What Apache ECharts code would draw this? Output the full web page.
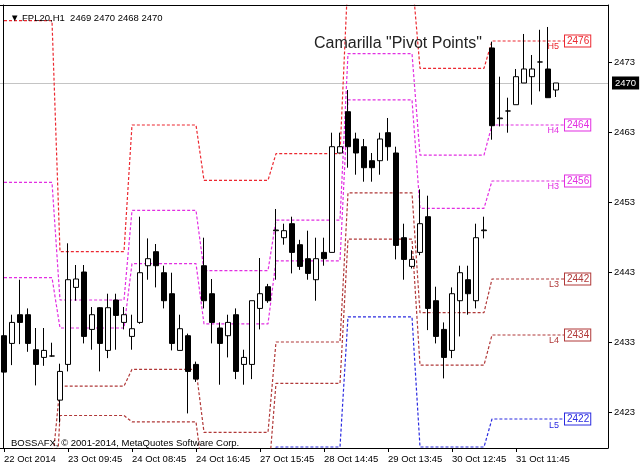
<!DOCTYPE html>
<html><head><meta charset="utf-8">
<script src="https://cdn.jsdelivr.net/npm/echarts@6/dist/echarts.min.js"></script>
<style>html,body{margin:0;padding:0;background:#fff}#c{width:640px;height:469px}</style>
</head><body><div id="c"></div>
<script>
// ---- data ----
const symbolName = 'FPL20,H1';
const chartTitle = 'Camarilla "Pivot Points"';
const copyright = 'BOSSAFX, \u00a9 2001-2014, MetaQuotes Software Corp.';
const xLabels = ['22 Oct 2014','23 Oct 09:45','24 Oct 08:45','24 Oct 16:45','27 Oct 15:45','28 Oct 14:45','29 Oct 13:45','30 Oct 12:45','31 Oct 11:45'];
const labelBars = [0,8,16,24,32,40,48,56,64];
const yTicks = [2423,2433,2443,2453,2463,2473];
const opens  = [2433.9,2432.8,2436.9,2436.9,2431.9,2430.8,2431.0,2424.7,2429.8,2440.8,
                2443.0,2434.8,2437.9,2431.8,2439.0,2435.8,2433.8,2435.8,2443.9,2445.9,
                2442.9,2439.9,2431.8,2433.9,2429.8,2443.9,2439.9,2435.0,2433.9,2436.9,
                2429.8,2429.8,2437.8,2440.9,2448.9,2447.9,2449.9,2446.9,2444.9,2441.9,
                2445.8,2445.8,2460.0,2465.9,2462.0,2460.9,2458.9,2458.9,2462.9,2460.0,
                2447.9,2443.8,2445.8,2450.9,2438.9,2434.8,2431.8,2438.9,2441.9,2438.9,
                2448.9,2475.0,2464.9,2466.0,2466.9,2470.0,2470.9,2473.0,2472.0,2469.0];
const closes = [2428.7,2435.8,2435.8,2432.8,2429.8,2431.8,2431.0,2428.8,2441.9,2442.0,
                2433.8,2436.9,2432.8,2437.9,2436.8,2436.9,2434.9,2442.9,2444.9,2443.9,
                2438.9,2432.8,2434.9,2428.8,2427.7,2438.9,2435.8,2432.8,2435.8,2428.8,
                2430.8,2438.9,2439.9,2438.9,2449.0,2448.9,2445.8,2443.8,2442.8,2444.9,
                2444.9,2460.9,2460.9,2460.9,2460.0,2457.9,2457.9,2462.0,2460.9,2446.8,
                2444.8,2444.8,2449.9,2437.8,2433.8,2430.8,2439.9,2442.9,2439.9,2447.9,
                2449.0,2463.9,2465.0,2466.0,2470.9,2472.0,2472.0,2473.0,2467.9,2470.0];
const lows   = [2427.9,2429.7,2432.7,2431.6,2426.8,2429.6,2430.9,2421.5,2428.8,2438.9,
                2432.8,2431.9,2428.8,2430.7,2431.9,2434.8,2431.9,2435.6,2441.9,2440.8,
                2437.8,2431.8,2431.8,2422.8,2427.3,2437.8,2432.8,2426.9,2430.8,2427.7,
                2426.9,2427.7,2434.8,2438.6,2441.9,2446.9,2442.8,2443.3,2441.9,2438.9,
                2443.9,2445.8,2460.0,2457.9,2456.9,2455.9,2455.9,2456.9,2458.9,2444.8,
                2441.9,2443.5,2445.4,2434.7,2432.8,2427.8,2430.7,2433.8,2436.9,2437.8,
                2447.8,2461.9,2463.8,2462.9,2466.9,2470.0,2466.9,2468.8,2467.9,2468.0];
const highs  = [2434.3,2436.9,2441.9,2437.8,2435.0,2435.0,2432.9,2429.9,2447.1,2444.0,
                2444.0,2438.0,2438.0,2439.9,2439.9,2438.0,2436.9,2450.9,2447.8,2447.0,
                2443.9,2442.9,2436.9,2434.2,2430.2,2447.9,2442.0,2435.8,2436.9,2437.8,
                2431.9,2438.9,2445.0,2441.3,2452.0,2449.9,2450.9,2447.6,2448.9,2447.9,
                2447.9,2462.9,2462.9,2469.0,2462.9,2462.0,2460.0,2462.9,2465.0,2460.9,
                2449.9,2446.1,2454.8,2453.9,2440.9,2435.8,2440.8,2443.9,2443.9,2449.9,
                2450.9,2475.9,2470.9,2467.9,2472.0,2477.0,2474.0,2477.6,2478.0,2470.0];
// daily Camarilla levels (one value per trading day), first bar of each day
const dayStart = [0,7,16,25,34,43,52,61];
const H5 = [2478.9,2445.9,2464.0,2456.1,2459.9,2485.4,2472.1,2476];
const H4 = [2455.8,2439.0,2451.8,2443.2,2450.4,2474.2,2459.7,2464];
const H3 = [2442.2,2435.0,2444.2,2435.6,2444.6,2467.6,2452.1,2456];
const L3 = [2415.0,2426.7,2429.1,2420.1,2433.0,2454.3,2437.2,2442];
const L4 = [2401.4,2422.5,2421.6,2412.8,2427.1,2447.7,2429.7,2434];
const L5 = [2378.0,2415.9,2409.2,2399.9,2418.0,2436.6,2418.0,2422];

// ---- build ----
const FONT = "'Liberation Sans', Arial, sans-serif";
const nBars = opens.length;
const slotCount = 76;
const lineEnd = nBars; // levels drawn one bar past the last candle
const cats = [];
for (let i = 0; i < slotCount; i++) {
  const j = labelBars.indexOf(i);
  cats.push(j >= 0 ? xLabels[j] : String(i));
}
const isLabel = (i) => labelBars.indexOf(i) >= 0;
const candleData = opens.map((o, i) => [o, closes[i], lows[i], highs[i]]);
const last = nBars - 1;
const header = '\u25bc ' + symbolName + '  ' + [opens[last], highs[last], lows[last], closes[last]].map(v => Math.round(v)).join(' ');
const lastPrice = closes[last];

function expand(levels) {
  const out = [];
  for (let i = 0; i <= lineEnd; i++) {
    let d = 0;
    while (d + 1 < dayStart.length && dayStart[d + 1] <= i) d++;
    out.push(levels[d]);
  }
  return out;
}
const levelDefs = [
  { name: 'H5', vals: H5, color: '#ec2830' },
  { name: 'H4', vals: H4, color: '#e22ee2' },
  { name: 'H3', vals: H3, color: '#e22ee2' },
  { name: 'L3', vals: L3, color: '#b03838' },
  { name: 'L4', vals: L4, color: '#b03838' },
  { name: 'L5', vals: L5, color: '#2a2ae0' }
];
const levelSeries = levelDefs.map(d => {
  const lastVal = d.vals[d.vals.length - 1];
  return {
    type: 'line', name: d.name, data: expand(d.vals), showSymbol: false, symbol: 'none',
    z: 1, silent: true,
    lineStyle: { color: d.color, width: 1.2, type: [3, 2] },
    markPoint: {
      symbol: 'rect', symbolSize: 0, silent: true, animation: false,
      data: [
        { coord: [cats[lineEnd], lastVal],
          label: { show: true, position: 'right', distance: 1, formatter: String(Math.round(lastVal)),
            color: d.color, fontFamily: FONT, fontSize: 10, backgroundColor: '#fff',
            borderColor: d.color, borderWidth: 1, padding: [1, 1, 0, 2] } },
        { coord: [cats[lineEnd], lastVal],
          label: { show: true, position: 'left', distance: 5, offset: [0, 6], formatter: d.name,
            color: d.color, fontFamily: FONT, fontSize: 9 } }
      ]
    }
  };
});

const chart = echarts.init(document.getElementById('c'), null, { renderer: 'canvas' });
chart.setOption({
  animation: false,
  backgroundColor: '#fff',
  textStyle: { fontFamily: FONT },
  title: [
    { text: header, left: 5, top: 8, textStyle: { fontSize: 9.5, fontWeight: 'normal', color: '#000', fontFamily: FONT } },
    { text: chartTitle, left: 309, top: 31, textStyle: { fontSize: 16, fontWeight: 'normal', color: '#222', fontFamily: FONT } },
    { text: copyright, left: 6, top: 433, textStyle: { fontSize: 9.5, fontWeight: 'normal', color: '#000', fontFamily: FONT } }
  ],
  grid: { left: 0, right: 32, top: 5, bottom: 21, containLabel: false },
  xAxis: [
    { type: 'category', data: cats, boundaryGap: true,
      axisLine: { show: true, lineStyle: { color: '#000', width: 1 } },
      axisTick: { show: true, alignWithLabel: true, length: 4, interval: (i) => isLabel(i), lineStyle: { color: '#000' } },
      axisLabel: { show: true, interval: (i) => isLabel(i), align: 'left', margin: 6, fontSize: 9.5, color: '#000', fontFamily: FONT },
      splitLine: { show: false } },
    { type: 'category', data: cats, position: 'top', boundaryGap: true,
      axisLine: { show: true, lineStyle: { color: '#000', width: 1 } },
      axisTick: { show: false }, axisLabel: { show: false }, splitLine: { show: false } }
  ],
  yAxis: [
    { type: 'value', position: 'right', min: 2417.86, max: 2481.14,
      axisLine: { show: true, lineStyle: { color: '#000', width: 1 } },
      axisTick: { show: true, length: 4, customValues: yTicks, lineStyle: { color: '#000' } },
      axisLabel: { show: true, customValues: yTicks, margin: 6, fontSize: 9.5, color: '#000', fontFamily: FONT, formatter: (v) => String(Math.round(v)) },
      splitLine: { show: false } },
    { type: 'value', position: 'left', offset: -3, min: 2417.86, max: 2481.14,
      axisLine: { show: true, lineStyle: { color: '#000', width: 1 } },
      axisTick: { show: false }, axisLabel: { show: false }, splitLine: { show: false } }
  ],
  series: levelSeries.concat([
    { type: 'candlestick', name: symbolName, data: candleData, barWidth: 5, z: 3,
      itemStyle: { color: '#fff', color0: '#000', borderColor: '#000', borderColor0: '#000', borderWidth: 1 },
      markLine: { symbol: ['none', 'none'], silent: true, animation: false, z: 0,
        data: [{ yAxis: lastPrice }],
        lineStyle: { color: '#c4c4c4', type: 'solid', width: 1 },
        label: { show: true, position: 'end', distance: 4, formatter: String(Math.round(lastPrice)),
          backgroundColor: '#000', color: '#fff', fontSize: 9.5, fontFamily: FONT, padding: [2, 3, 1, 3] } } }
  ])
});
</script></body></html>
